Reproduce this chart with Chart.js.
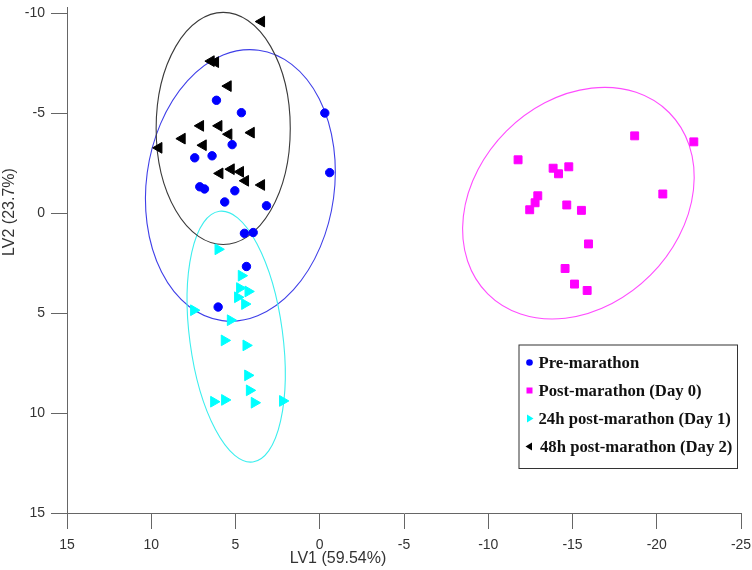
<!DOCTYPE html>
<html>
<head>
<meta charset="utf-8">
<script src="https://cdn.jsdelivr.net/npm/chart.js@4"></script>
<style>
  html, body { margin: 0; padding: 0; background: #fff; }
  #wrap { width: 752px; height: 570px; }
</style>
</head>
<body>
<div id="wrap"><canvas id="plot" width="752" height="570"></canvas></div>
<script>
// PLS-DA score plot, LV1 vs LV2, four time points.

const groupNames = ['Pre-marathon', 'Post-marathon (Day 0)', '24h post-marathon (Day 1)', '48h post-marathon (Day 2)'];

const preX = [6.13, 4.65, -0.30, 5.20, 7.42, 6.39, -0.59, 7.12, 6.84, 5.04, 5.64, 3.16, 4.47, 3.95, 4.35, 6.03];
const preY = [-5.66, -5.04, -5.02, -3.44, -2.78, -2.88, -2.04, -1.33, -1.22, -1.13, -0.57, -0.38, 1.00, 0.96, 2.66, 4.69];

const day0X = [-18.69, -22.20, -11.77, -13.85, -14.78, -14.17, -20.36, -12.94, -12.78, -12.46, -14.66, -15.53, -15.95, -14.56, -15.12, -15.87];
const day0Y = [-3.88, -3.58, -2.68, -2.26, -2.33, -1.98, -0.97, -0.88, -0.53, -0.18, -0.42, -0.15, 1.53, 2.76, 3.54, 3.86];

const day1X = [6.03, 4.65, 4.75, 4.25, 4.87, 4.45, 7.48, 5.30, 5.66, 4.37, 4.27, 4.17, 6.29, 5.64, 3.88, 2.20];
const day1Y = [1.80, 3.12, 3.74, 3.91, 4.20, 4.54, 4.85, 5.35, 6.36, 6.61, 8.11, 8.86, 9.43, 9.34, 9.48, 9.39];

const day2X = [3.46, 6.45, 6.19, 5.44, 7.08, 5.99, 5.40, 4.07, 8.17, 9.55, 6.92, 5.26, 4.71, 5.93, 4.41, 3.46];
const day2Y = [-9.60, -7.62, -7.57, -6.37, -4.38, -4.38, -3.96, -4.04, -3.74, -3.28, -3.41, -2.21, -2.08, -2.00, -1.63, -1.42];

// confidence ellipses per group: centre, semi-axes (data units), tilt in degrees
const ellCx = [4.71, -15.35, 4.96, 5.73];
const ellCy = [-1.40, -0.51, 6.17, -4.25];
const ellRx = [5.58, 7.61, 2.76, 3.98];
const ellRy = [6.83, 5.10, 6.33, 5.81];
const ellTilt = [7.7, -45, -7.6, 0];

const xTicks = [15, 10, 5, 0, -5, -10, -15, -20, -25];
const yTicks = [-10, -5, 0, 5, 10, 15];

const markColors = ['#0000ff', '#ff00ff', '#00ffff', '#000000'];
const ringColors = ['#3f3fe8', '#ff4cff', '#3ceeee', '#3a3a3a'];
const styles = ['circle', 'rect', 'triangle', 'triangle'];
const rotations = [0, 0, 90, -90];
const radii = [4.2, 5.6, 6.2, 6.2];

function pairs(xs, ys) {
  return xs.map((x, i) => ({ x, y: ys[i] }));
}

const allX = [preX, day0X, day1X, day2X];
const allY = [preY, day0Y, day1Y, day2Y];

const ellipsePlugin = {
  id: 'ellipses',
  beforeDatasetsDraw(chart) {
    const { ctx, scales: { x, y } } = chart;
    ctx.save();
    ctx.lineWidth = 1.1;
    ellCx.forEach((cx, i) => {
      const px = x.getPixelForValue(cx);
      const py = y.getPixelForValue(ellCy[i]);
      const rx = Math.abs(x.getPixelForValue(cx + ellRx[i]) - px);
      const ry = Math.abs(y.getPixelForValue(ellCy[i] + ellRy[i]) - py);
      ctx.strokeStyle = ringColors[i];
      ctx.beginPath();
      ctx.ellipse(px, py, rx, ry, ellTilt[i] * Math.PI / 180, 0, Math.PI * 2);
      ctx.stroke();
    });
    ctx.restore();
  },
};

const labelsPlugin = {
  id: 'axisTitles',
  afterDraw(chart) {
    const { ctx, chartArea: a } = chart;
    ctx.save();
    ctx.fillStyle = '#333';
    ctx.font = '16px Arial, "Liberation Sans", sans-serif';
    ctx.textAlign = 'center';
    ctx.textBaseline = 'middle';
    ctx.fillText('LV1 (59.54%)', a.left + 271, 559);
    ctx.translate(10, 212);
    ctx.rotate(-Math.PI / 2);
    ctx.fillText('LV2 (23.7%)', 0, 0);
    ctx.restore();
  },
};

const boxLegend = {
  id: 'boxLegend',
  afterDraw(chart) {
    const { ctx, chartArea: a } = chart;
    const w = 218.5, h = 123.5;
    const left = a.right - 4 - w, top = a.bottom - 45 - h;
    ctx.save();
    ctx.fillStyle = '#fff';
    ctx.fillRect(left, top, w, h);
    ctx.strokeStyle = '#333';
    ctx.lineWidth = 1;
    ctx.strokeRect(left + 0.5, top + 0.5, w, h);
    ctx.font = 'bold 16.7px "Liberation Serif", "Times New Roman", serif';
    ctx.textBaseline = 'middle';
    ctx.textAlign = 'left';
    groupNames.forEach((name, i) => {
      const cy = top + 18 + i * 28;
      const mx = left + 11;
      ctx.fillStyle = markColors[i];
      ctx.beginPath();
      if (i === 0) {
        ctx.arc(mx, cy, 3.3, 0, Math.PI * 2);
      } else if (i === 1) {
        ctx.rect(mx - 3, cy - 3, 6, 6);
      } else if (i === 2) {
        ctx.moveTo(mx + 4, cy);
        ctx.lineTo(mx - 2.5, cy - 4);
        ctx.lineTo(mx - 2.5, cy + 4);
      } else {
        ctx.moveTo(mx - 4, cy);
        ctx.lineTo(mx + 2.5, cy - 4);
        ctx.lineTo(mx + 2.5, cy + 4);
      }
      ctx.closePath();
      ctx.fill();
      ctx.fillStyle = '#111';
      ctx.fillText(name, left + (i === 3 ? 21.5 : 20), cy + 1);
    });
    ctx.restore();
  },
};

const datasets = groupNames.map((name, i) => ({
  label: name,
  data: pairs(allX[i], allY[i]),
  pointStyle: styles[i],
  rotation: rotations[i],
  pointRadius: radii[i],
  pointBackgroundColor: markColors[i],
  pointBorderColor: markColors[i],
  pointBorderWidth: 1,
  showLine: false,
}));

const axisGrey = '#666';

// let tick labels hang over the edges instead of shrinking the plot area
function noEdgePad(s) {
  s.paddingLeft = 0; s.paddingRight = 0; s.paddingTop = 0; s.paddingBottom = 0;
}

new Chart(document.getElementById('plot'), {
  type: 'scatter',
  data: { datasets },
  options: {
    responsive: false,
    animation: false,
    events: [],
    layout: { padding: { top: 0, right: 11, left: 0, bottom: 0 } },
    plugins: {
      legend: { display: false },
      tooltip: { enabled: false },
    },
    scales: {
      x: {
        type: 'linear',
        reverse: true,
        min: -25,
        max: 15,
        afterBuildTicks: (s) => { s.ticks = xTicks.map((v) => ({ value: v })); },
        afterFit: (s) => { s.height = 57; noEdgePad(s); },
        grid: { drawOnChartArea: false, drawTicks: true, tickLength: 16, color: axisGrey },
        border: { display: true, color: axisGrey },
        ticks: { color: '#333', font: { family: 'Arial, "Liberation Sans", sans-serif', size: 14 }, padding: 8, maxRotation: 0 },
      },
      y: {
        type: 'linear',
        reverse: true,
        min: -10.32,
        max: 15,
        afterBuildTicks: (s) => { s.ticks = yTicks.map((v) => ({ value: v })); },
        afterFit: (s) => { s.width = 67; noEdgePad(s); },
        grid: { drawOnChartArea: false, drawTicks: true, tickLength: 16, color: axisGrey },
        border: { display: true, color: axisGrey },
        ticks: { color: '#333', font: { family: 'Arial, "Liberation Sans", sans-serif', size: 14 }, padding: 6 },
      },
    },
  },
  plugins: [ellipsePlugin, labelsPlugin, boxLegend],
});
</script>
</body>
</html>
